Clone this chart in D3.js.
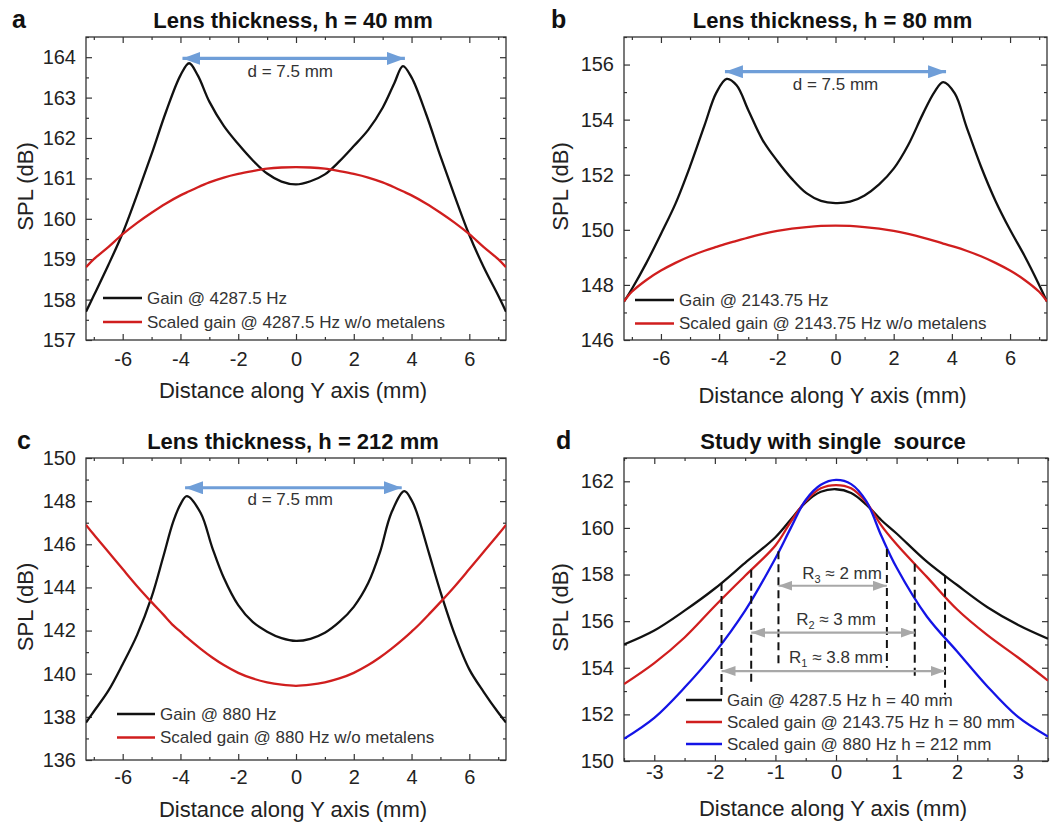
<!DOCTYPE html>
<html>
<head>
<meta charset="utf-8">
<script src="https://cdn.jsdelivr.net/npm/d3@7"></script>
<style>
  body { margin: 0; background: #fff; }
  text { font-family: "Liberation Sans", Arial, sans-serif; }
</style>
</head>
<body>
<svg id="chart" width="1053" height="823"></svg>
<script>
// ---- panel a: h = 40 mm ----
const xA = [-7.27,-7,-6.5,-6,-5.5,-5,-4.5,-4,-3.7,-3.4,-3,-2.5,-2,-1.5,-1,-0.5,0,0.5,1,1.5,2,2.5,3,3.4,3.7,4,4.5,5,5.5,6,6.5,7,7.27];
const gainA = [157.7,158.1,158.85,159.65,160.6,161.6,162.65,163.55,163.85,163.55,162.9,162.3,161.85,161.45,161.12,160.92,160.85,160.93,161.1,161.42,161.8,162.2,162.75,163.35,163.78,163.5,162.6,161.55,160.55,159.6,158.8,158.1,157.7];
const scaledA = [158.8,159.0,159.3,159.62,159.9,160.15,160.38,160.58,160.68,160.78,160.9,161.02,161.11,161.18,161.24,161.27,161.28,161.27,161.24,161.18,161.11,161.02,160.9,160.78,160.68,160.58,160.38,160.15,159.9,159.62,159.3,159.0,158.8];

// ---- panel b: h = 80 mm ----
const xB = [-7.27,-7,-6.5,-6,-5.5,-5,-4.5,-4.1,-3.74,-3.4,-3,-2.5,-2,-1.5,-1,-0.5,0,0.5,1,1.5,2,2.5,3,3.4,3.7,4.1,4.5,5,5.5,6,6.5,7,7.27];
const gainB = [147.39,147.85,148.8,149.85,150.95,152.3,153.8,154.97,155.48,155.25,154.35,153.25,152.5,151.85,151.33,151.05,150.97,151.02,151.25,151.65,152.22,153.08,154.2,155.0,155.36,154.95,153.75,152.3,151.05,150.0,149.05,148.0,147.39];
const scaledB = [147.4,147.75,148.18,148.52,148.8,149.04,149.24,149.38,149.5,149.6,149.72,149.85,149.96,150.04,150.1,150.14,150.15,150.14,150.1,150.04,149.96,149.85,149.72,149.6,149.5,149.38,149.24,149.04,148.8,148.52,148.18,147.75,147.4];

// ---- panel c: h = 212 mm ----
const xC = [-7.27,-7,-6.5,-6,-5.5,-5,-4.6,-4.25,-4,-3.78,-3.3,-2.9,-2.5,-2,-1.5,-1,-0.5,0,0.5,1,1.5,2,2.5,2.9,3.3,3.75,4,4.2,4.6,5,5.5,6,6.5,7,7.27];
const gainC = [137.74,138.25,139.2,140.44,141.8,143.55,145.4,147.05,147.85,148.23,147.45,145.85,144.45,143.18,142.4,141.95,141.65,141.52,141.62,141.9,142.4,143.1,144.2,145.6,147.45,148.46,148.05,147.4,145.6,143.8,141.8,140.2,139.15,138.2,137.74];
const scaledC = [146.9,146.45,145.65,144.85,144.06,143.32,142.75,142.24,141.95,141.68,141.15,140.75,140.4,140.04,139.78,139.6,139.49,139.44,139.49,139.6,139.78,140.04,140.4,140.75,141.15,141.65,141.95,142.2,142.75,143.32,144.06,144.85,145.65,146.45,146.9];

// ---- panel d: single source ----
const xD = [-3.5,-3,-2.5,-2,-1.5,-1,-0.75,-0.5,-0.25,0,0.25,0.5,0.75,1,1.5,2,2.5,3,3.5];
const gain40 = [155.0,155.6,156.45,157.4,158.5,159.6,160.35,161.1,161.55,161.66,161.5,161.0,160.33,159.76,158.55,157.55,156.6,155.85,155.25];
const gain80 = [153.3,154.2,155.3,156.65,157.95,159.25,160.25,161.15,161.7,161.84,161.7,161.1,160.1,159.3,157.9,156.5,155.4,154.45,153.45];
const gain212 = [150.95,151.85,153.15,154.65,156.45,158.7,159.98,161.2,161.85,162.06,161.88,161.15,159.65,158.3,156.2,154.7,153.2,151.9,151.05];

// dashed markers and radius arrows in panel d
const dashX = [-1.89,-1.4,-0.95,0.84,1.3,1.8];
const dashTop = [157.64,158.21,159.0,159.1,158.46,157.95];
const dashBottom = [152.75,153.2,154.0,154.0,153.45,152.85];
const radiusName = ["R", "R", "R"];
const radiusSub = ["3", "2", "1"];
const radiusText = [" \u2248 2 mm", " \u2248 3 mm", " \u2248 3.8 mm"];
const radiusFrom = [-0.95,-1.4,-1.89];
const radiusTo = [0.84,1.3,1.8];
const radiusY = [157.52,155.51,153.86];
const radiusLabelX = [0.1,0,0];
const radiusLabelY = [157.8,155.84,154.22];

// titles, legends
const panelLetters = ["a","b","c","d"];
const panelTitles = ["Lens thickness, h = 40 mm","Lens thickness, h = 80 mm","Lens thickness, h = 212 mm","Study with single  source"];
const legendA = ["Gain @ 4287.5 Hz","Scaled gain @ 4287.5 Hz w/o metalens"];
const legendB = ["Gain @ 2143.75 Hz","Scaled gain @ 2143.75 Hz w/o metalens"];
const legendC = ["Gain @ 880 Hz","Scaled gain @ 880 Hz w/o metalens"];
const legendD = ["Gain @ 4287.5 Hz h = 40 mm","Scaled gain @ 2143.75 Hz h = 80 mm","Scaled gain @ 880 Hz h = 212 mm"];
const spanLabel = "d = 7.5 mm";

const BLACK = "#111", RED = "#d01e1e", BLUE = "#1414e6", ARROW = "#6f9ed8", GREY = "#a8a8a8";

const svg = d3.select("#chart");

const defs = svg.append("defs");
function arrowMarker(id, color, len, wid) {
    defs.append("marker")
        .attr("id", id)
        .attr("markerUnits", "userSpaceOnUse")
        .attr("markerWidth", len).attr("markerHeight", wid)
        .attr("refX", len).attr("refY", wid / 2)
        .attr("orient", "auto-start-reverse")
        .append("path")
        .attr("d", `M0,0L${len},${wid / 2}L0,${wid}Z`)
        .attr("fill", color);
}
arrowMarker("blueHead", ARROW, 18, 13);
arrowMarker("greyHead", GREY, 14, 10);

const line = d3.line().curve(d3.curveCatmullRom.alpha(0.5));
const plain = d => String(d); // hyphen minus, like the original

function drawPanel(p, idx) {
    const x = d3.scaleLinear().domain(p.xDomain).range([p.left, p.right]);
    const y = d3.scaleLinear().domain(p.yDomain).range([p.bottom, p.top]);
    const g = svg.append("g");
    const w = p.right - p.left, h = p.bottom - p.top;

    defs.append("clipPath").attr("id", "clip" + idx)
        .append("rect").attr("x", p.left).attr("y", p.top).attr("width", w).attr("height", h);

    // axes: major + minor ticks, all inward
    const xMajor = d3.range(p.xTick[0], p.xTick[1] + 1e-9, p.xTick[2]);
    const xMinor = d3.range(p.xMinor[0], p.xMinor[1] + 1e-9, p.xMinor[2]).filter(v => !xMajor.some(m => Math.abs(m - v) < 1e-9));
    const yMajor = d3.range(p.yTick[0], p.yTick[1] + 1e-9, p.yTick[2]);
    const yMinor = d3.range(p.yMinor[0], p.yMinor[1] + 1e-9, p.yMinor[2]).filter(v => !yMajor.some(m => Math.abs(m - v) < 1e-9));

    const addAxis = (axis, tf) => {
        const a = g.append("g").attr("transform", tf).call(axis);
        a.select(".domain").remove();
        a.selectAll("line").attr("stroke", "#333").attr("stroke-width", 1.2);
        a.selectAll("text").attr("font-size", 20).attr("fill", "#222").style("font-family", '"Liberation Sans", Arial, sans-serif');
        return a;
    };
    addAxis(d3.axisBottom(x).tickValues(xMajor).tickSize(-6).tickPadding(p.xPad).tickFormat(plain), `translate(0,${p.bottom})`);
    addAxis(d3.axisBottom(x).tickValues(xMinor).tickSize(-3).tickFormat(""), `translate(0,${p.bottom})`);
    addAxis(d3.axisTop(x).tickValues(xMajor).tickSize(-6).tickFormat(""), `translate(0,${p.top})`);
    addAxis(d3.axisTop(x).tickValues(xMinor).tickSize(-3).tickFormat(""), `translate(0,${p.top})`);
    addAxis(d3.axisLeft(y).tickValues(yMajor).tickSize(-6).tickPadding(10).tickFormat(plain), `translate(${p.left},0)`);
    addAxis(d3.axisLeft(y).tickValues(yMinor).tickSize(-3).tickFormat(""), `translate(${p.left},0)`);
    addAxis(d3.axisRight(y).tickValues(yMajor).tickSize(-6).tickFormat(""), `translate(${p.right},0)`);
    addAxis(d3.axisRight(y).tickValues(yMinor).tickSize(-3).tickFormat(""), `translate(${p.right},0)`);

    // frame
    g.append("rect").attr("x", p.left).attr("y", p.top).attr("width", w).attr("height", h)
        .attr("fill", "none").attr("stroke", "#333").attr("stroke-width", 1.3);

    // curves
    const plot = g.append("g").attr("clip-path", `url(#clip${idx})`);
    p.series.forEach(s => {
        plot.append("path")
            .attr("d", line(p.xs.map((v, i) => [x(v), y(s.values[i])])))
            .attr("fill", "none").attr("stroke", s.color).attr("stroke-width", 2.3);
    });

    // double arrow for peak spacing
    if (p.span) {
        g.append("line")
            .attr("x1", x(p.span.from)).attr("x2", x(p.span.to))
            .attr("y1", y(p.span.y)).attr("y2", y(p.span.y))
            .attr("stroke", ARROW).attr("stroke-width", 3.2)
            .attr("marker-start", "url(#blueHead)").attr("marker-end", "url(#blueHead)");
        g.append("text").attr("x", x(p.span.labelX)).attr("y", y(p.span.labelY))
            .attr("text-anchor", "middle").attr("font-size", 17).attr("fill", "#333")
            .text(spanLabel);
    }

    if (p.extra) p.extra(g, x, y);

    // legend
    p.legend.forEach((t, i) => {
        const cy = p.legendY + i * p.legendStep;
        g.append("line").attr("x1", p.legendX).attr("x2", p.legendX + p.legendLen)
            .attr("y1", cy).attr("y2", cy)
            .attr("stroke", p.series[i].color).attr("stroke-width", 2.3);
        g.append("text").attr("x", p.legendX + p.legendLen + 5).attr("y", cy).attr("dy", "0.35em")
            .attr("font-size", 17).attr("fill", "#333").text(t);
    });

    // titles and axis labels
    const cx = (p.left + p.right) / 2;
    g.append("text").attr("x", cx - 3).attr("y", p.titleY)
        .attr("text-anchor", "middle").attr("font-size", 22).attr("font-weight", "bold").attr("fill", "#111")
        .style("white-space", "pre")
        .text(panelTitles[idx]);
    g.append("text").attr("x", p.letterX).attr("y", p.titleY)
        .attr("font-size", 25).attr("font-weight", "bold").attr("fill", "#111")
        .text(panelLetters[idx]);
    g.append("text").attr("x", cx - 3).attr("y", p.bottom + p.xTitleOff).attr("dy", "0.35em")
        .attr("text-anchor", "middle").attr("font-size", 22).attr("fill", "#222")
        .text("Distance along Y axis (mm)");
    g.append("text")
        .attr("transform", `translate(${p.yTitleX},${(p.top + p.bottom) / 2 - 2}) rotate(-90)`)
        .attr("dy", "0.35em").attr("text-anchor", "middle").attr("font-size", 22).attr("fill", "#222")
        .text("SPL (dB)");
}

const panels = [
    {
        left: 86, right: 506, top: 37, bottom: 340,
        xDomain: [-7.27, 7.27], yDomain: [157, 164.5],
        xTick: [-6, 6, 2], xMinor: [-7, 7, 1], yTick: [157, 164, 1], yMinor: [157, 164.5, 0.5],
        xPad: 12, xTitleOff: 50, yTitleX: 25, titleY: 28, letterX: 12,
        xs: xA,
        series: [{ values: gainA, color: BLACK }, { values: scaledA, color: RED }],
        span: { from: -3.93, to: 3.77, y: 163.97, labelX: -0.2, labelY: 163.5 },
        legend: legendA, legendX: 103, legendLen: 39, legendY: 298, legendStep: 24
    },
    {
        left: 624, right: 1047, top: 37, bottom: 340,
        xDomain: [-7.27, 7.27], yDomain: [146, 157],
        xTick: [-6, 6, 2], xMinor: [-7, 7, 1], yTick: [146, 156, 2], yMinor: [146, 157, 1],
        xPad: 11, xTitleOff: 55, yTitleX: 560, titleY: 28, letterX: 551,
        xs: xB,
        series: [{ values: gainB, color: BLACK }, { values: scaledB, color: RED }],
        span: { from: -3.8, to: 3.8, y: 155.74, labelX: 0, labelY: 155.08 },
        legend: legendB, legendX: 635, legendLen: 39, legendY: 300, legendStep: 23.5
    },
    {
        left: 86, right: 506, top: 458, bottom: 760,
        xDomain: [-7.27, 7.27], yDomain: [136, 150],
        xTick: [-6, 6, 2], xMinor: [-7, 7, 1], yTick: [136, 150, 2], yMinor: [136, 150, 1],
        xPad: 10, xTitleOff: 49, yTitleX: 25, titleY: 449, letterX: 17,
        xs: xC,
        series: [{ values: gainC, color: BLACK }, { values: scaledC, color: RED }],
        span: { from: -3.84, to: 3.66, y: 148.62, labelX: -0.2, labelY: 147.82 },
        legend: legendC, legendX: 117, legendLen: 38, legendY: 714, legendStep: 23.5
    },
    {
        left: 624, right: 1048, top: 458, bottom: 761,
        xDomain: [-3.5, 3.5], yDomain: [150, 163],
        xTick: [-3, 3, 1], xMinor: [-3.5, 3.5, 0.5], yTick: [150, 162, 2], yMinor: [150, 163, 1],
        xPad: 4, xTitleOff: 47, yTitleX: 560, titleY: 449, letterX: 556,
        xs: xD,
        series: [{ values: gain40, color: BLACK }, { values: gain80, color: RED }, { values: gain212, color: BLUE }],
        legend: legendD, legendX: 686, legendLen: 36, legendY: 700, legendStep: 22,
        extra: (g, x, y) => {
            dashX.forEach((v, i) => {
                g.append("line")
                    .attr("x1", x(v)).attr("x2", x(v))
                    .attr("y1", y(dashTop[i])).attr("y2", y(dashBottom[i]))
                    .attr("stroke", "#111").attr("stroke-width", 2).attr("stroke-dasharray", "8,5");
            });
            radiusY.forEach((v, i) => {
                g.append("line")
                    .attr("x1", x(radiusFrom[i])).attr("x2", x(radiusTo[i]))
                    .attr("y1", y(v)).attr("y2", y(v))
                    .attr("stroke", GREY).attr("stroke-width", 2.2)
                    .attr("marker-start", "url(#greyHead)").attr("marker-end", "url(#greyHead)");
                const t = g.append("text").attr("x", x(radiusLabelX[i])).attr("y", y(radiusLabelY[i]))
                    .attr("text-anchor", "middle").attr("font-size", 17).attr("fill", "#333");
                t.append("tspan").text(radiusName[i]);
                t.append("tspan").attr("dy", 4).attr("font-size", 11).text(radiusSub[i]);
                t.append("tspan").attr("dy", -4).text(radiusText[i]);
            });
        }
    }
];

panels.forEach(drawPanel);
</script>
</body>
</html>
